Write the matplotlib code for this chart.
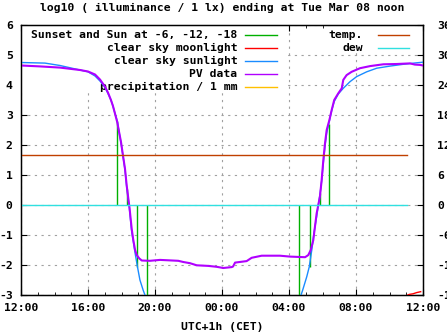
import matplotlib
matplotlib.use("Agg")
import matplotlib.pyplot as plt
from matplotlib.patches import Rectangle

# hours after Mon 12:00 (CET)
sky_hours = [0, 1.43, 2.33, 3.52, 4.0, 4.42, 4.72, 5.01, 5.19, 5.37, 5.49, 5.61,
             5.75, 5.85, 5.97, 6.07, 6.21, 6.31, 6.41, 6.45, 6.61, 6.70, 6.81,
             6.95, 7.10, 7.30, 7.40, 7.54, 7.70]
sky_vals = [4.75, 4.73, 4.65, 4.5, 4.44, 4.3, 4.13, 3.92, 3.72, 3.5, 3.3, 3.05,
            2.8, 2.45, 2.07, 1.7, 1.17, 0.6, 0.17, 0.0, -0.9, -1.2, -1.6,
            -2.05, -2.5, -2.85, -3.0, -3.3, -3.6]
sky_hours2 = [16.45, 16.62, 16.72, 16.82, 17.06, 17.21, 17.36, 17.49, 17.65, 17.75,
              17.85, 17.95, 18.05, 18.15, 18.25, 18.41, 18.55, 18.70, 18.94, 19.24,
              19.64, 20.04, 20.64, 21.24, 22.03, 22.82, 23.62, 24.0]
sky_vals2 = [-3.6, -3.3, -3.0, -2.83, -2.39, -2.06, -1.5, -0.94, -0.39, 0.0,
             0.35, 0.8, 1.4, 1.95, 2.4, 2.8, 3.15, 3.45, 3.7, 3.89,
             4.11, 4.28, 4.44, 4.56, 4.63, 4.69, 4.74, 4.76]

pv_hours = [0, 1.13, 2.33, 3.52, 4.0, 4.42, 4.72, 5.01, 5.19, 5.37, 5.49, 5.61,
            5.75, 5.85, 5.97, 6.07, 6.21, 6.31, 6.41, 6.48, 6.61, 6.70, 6.81,
            6.91, 7.06, 7.21, 7.70, 8.30, 9.39, 9.69, 10.09, 10.49, 11.18, 11.68,
            12.08, 12.58, 12.66, 12.78, 13.47, 13.77, 14.37, 15.46, 16.06, 16.96,
            17.15, 17.30, 17.45, 17.55, 17.65, 17.75, 17.85, 17.95, 18.05, 18.15,
            18.25, 18.41, 18.55, 18.70, 18.94, 19.15, 19.24, 19.44, 19.74, 20.24,
            20.84, 21.63, 22.43, 23.22, 23.52, 23.82, 24.0]
pv_vals = [4.65, 4.62, 4.58, 4.5, 4.45, 4.35, 4.18, 3.95, 3.75, 3.5, 3.3, 3.05,
           2.75, 2.45, 2.1, 1.72, 1.2, 0.65, 0.2, -0.1, -0.8, -1.15, -1.5,
           -1.67, -1.78, -1.85, -1.86, -1.83, -1.86, -1.9, -1.94, -2.01, -2.03, -2.06,
           -2.1, -2.07, -2.05, -1.92, -1.87, -1.76, -1.69, -1.69, -1.72, -1.74,
           -1.67, -1.5, -1.17, -0.72, -0.28, 0.0, 0.3, 0.83, 1.5, 2.06,
           2.5, 2.83, 3.17, 3.5, 3.72, 3.89, 4.17, 4.33, 4.44, 4.56,
           4.63, 4.69, 4.7, 4.72, 4.68, 4.67, 4.65]

moon_hours = [22.9, 23.18, 23.4, 23.62, 23.86]
moon_vals = [-3.05, -2.98, -2.96, -2.92, -2.89]

# sunset / sunrise and sun at -6, -12, -18 degrees
sun_hours = [5.75, 6.31, 6.95, 7.54, 16.62, 17.28, 17.85, 18.41]
sun_vals = [2.8, 0.52, -2.05, -3.3, -3.3, -2.06, 0.4, 2.7]

precip_hours = []
precip_vals = []

temp_hours = [0, 23.06]
temp_vals = [10, 10]
dew_hours = [0, 23.06]
dew_vals = [0, 0]

tick_hours = [0, 4, 8, 12, 16, 20, 24]
tick_labels = ['12:00', '16:00', '20:00', '00:00', '04:00', '08:00', '12:00']

plt.rcParams['font.family'] = 'DejaVu Sans Mono'
plt.rcParams['font.weight'] = 'bold'
plt.rcParams['font.size'] = 8.2
plt.rcParams['axes.unicode_minus'] = False

c_sun = '#00b000'
c_moon = '#ff0000'
c_sky = '#1a8cff'
c_pv = '#b000ff'
c_precip = '#ffc000'
c_temp = '#c04000'
c_dew = '#30e0e0'

fig = plt.figure(figsize=(4.47, 3.35), dpi=100)
ax = fig.add_axes([21 / 447, 40 / 335, 402 / 447, 270 / 335])
ax.set_xlim(0, 24)
ax.set_ylim(-3, 6)

ax.vlines(sun_hours, 0, sun_vals, color=c_sun, lw=1.0, zorder=3)
ax.plot(moon_hours, moon_vals, color=c_moon, lw=1.0, zorder=3)
ax.plot(sky_hours, sky_vals, color=c_sky, lw=1.0, zorder=3)
ax.plot(sky_hours2, sky_vals2, color=c_sky, lw=1.0, zorder=3)
ax.plot(pv_hours, pv_vals, color=c_pv, lw=1.5, zorder=3)
ax.plot(precip_hours, precip_vals, color=c_precip, lw=1.0, zorder=3)

ax.set_xticks(tick_hours)
ax.set_xticklabels(tick_labels)
ax.set_xticks(range(25), minor=True)
ax.set_yticks(range(-3, 7))
ax.tick_params(axis='x', which='major', direction='in', length=4, top=True, pad=6)
ax.tick_params(axis='x', which='minor', direction='in', length=2, top=True)
ax.tick_params(axis='y', which='major', direction='in', length=4, pad=6)
ax.grid(True, color='#a0a0a0', lw=0.8, linestyle=(0, (2, 4)), zorder=0)
ax.set_axisbelow(True)
for s in ax.spines.values():
    s.set_linewidth(1.0)

ax.set_title('log10 ( illuminance / 1 lx) ending at Tue Mar 08 noon', pad=10,
             fontweight='bold', fontsize=8.2)
ax.set_xlabel('UTC+1h (CET)', labelpad=6, fontweight='bold')

ax2 = ax.twinx()
ax2.set_ylim(-18, 36)
ax2.set_yticks(range(-18, 37, 6))
ax2.tick_params(axis='y', direction='in', length=4, pad=10)
ax2.plot(temp_hours, temp_vals, color=c_temp, lw=1.0)
ax2.plot(dew_hours, dew_vals, color=c_dew, lw=1.0)

# gnuplot-like keys: opaque boxes, text right-aligned, sample to the right
ax.add_patch(Rectangle((0, 0.748), 0.654, 0.252, transform=ax.transAxes,
                       facecolor='white', edgecolor='none', zorder=1))
ax.add_patch(Rectangle((0.77, 0.896), 0.21, 0.104, transform=ax.transAxes,
                       facecolor='white', edgecolor='none', zorder=1))

left_key = [('Sunset and Sun at -6, -12, -18', c_sun),
            ('clear sky moonlight', c_moon),
            ('clear sky sunlight', c_sky),
            ('PV data', c_pv),
            ('precipitation / 1 mm', c_precip)]
rows = [0.963, 0.914, 0.867, 0.819, 0.769]
for (label, col), yy in zip(left_key, rows):
    ax.text(0.538, yy, label, transform=ax.transAxes, ha='right', va='center',
            fontweight='bold', zorder=2)
    ax.plot([0.557, 0.638], [yy, yy], transform=ax.transAxes, color=col,
            lw=1.0, zorder=2)

right_key = [('temp.', c_temp), ('dew', c_dew)]
for (label, col), yy in zip(right_key, rows[:2]):
    ax.text(0.850, yy, label, transform=ax.transAxes, ha='right', va='center',
            fontweight='bold', zorder=2)
    ax.plot([0.888, 0.966], [yy, yy], transform=ax.transAxes, color=col,
            lw=1.0, zorder=2)

fig.savefig('out.png', dpi=100)
